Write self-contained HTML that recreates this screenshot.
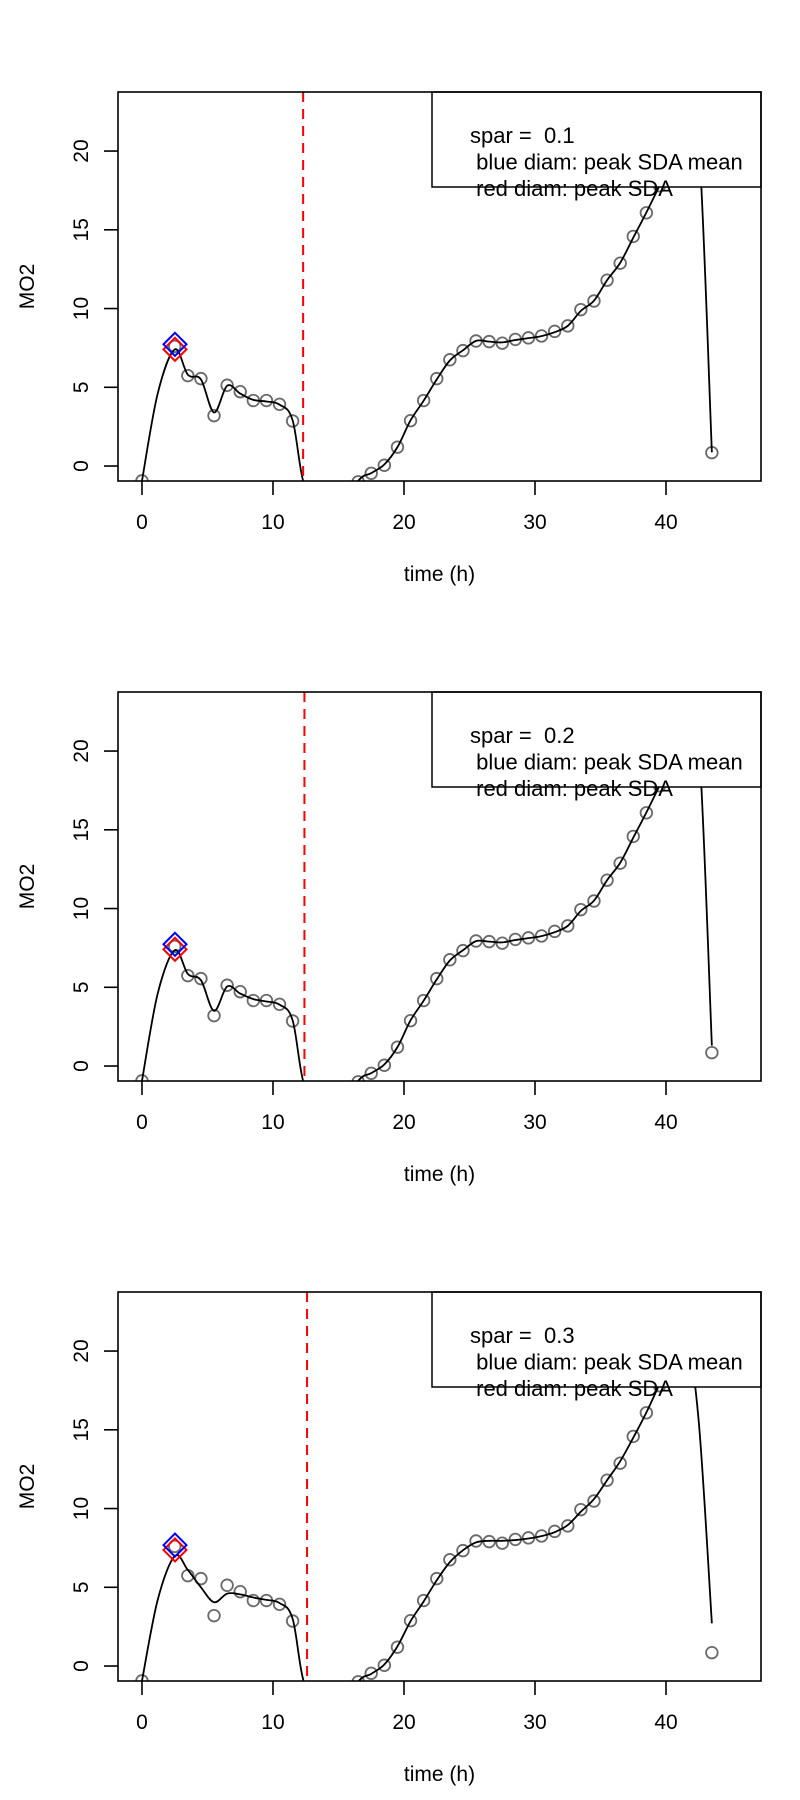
<!DOCTYPE html>
<html><head><meta charset="utf-8">
<style>
html,body{margin:0;padding:0;background:#fff;}
svg{display:block;font-family:"Liberation Sans",Arial,sans-serif;}
text{white-space:pre;}
</style></head>
<body>
<svg id="chart" width="800" height="1800" viewBox="0 0 800 1800" xmlns="http://www.w3.org/2000/svg"></svg>
<script>
// ---- data ----
const times = [0,2.5,3.5,4.5,5.5,6.5,7.5,8.5,9.5,10.5,11.5,16.5,17.5,18.5,19.5,20.5,21.5,22.5,23.5,24.5,25.5,26.5,27.5,28.5,29.5,30.5,31.5,32.5,33.5,34.5,35.5,36.5,37.5,38.5,39.5,40.5,41.5,42.5,43.5];
const mo2 = [-0.94,7.6,5.74,5.55,3.2,5.13,4.72,4.16,4.16,3.92,2.86,-1.0,-0.46,0.05,1.2,2.88,4.16,5.55,6.75,7.33,7.94,7.9,7.8,8.04,8.14,8.26,8.55,8.9,9.93,10.48,11.8,12.88,14.58,16.08,17.8,19.6,21.0,21.5,0.85];
const sparLabels = ["0.1","0.2","0.3"];
const fitT = [0,1.2,2.5,3.5,4.5,5.5,6.5,7.5,8.5,9.5,10.5,11.5,12.5,14.5,16.5,17.5,18.5,19.5,20.5,21.5,22.5,23.5,24.5,25.5,26.5,27.5,28.5,29.5,30.5,31.5,32.5,33.5,34.5,35.5,36.5,37.5,38.5,39.5,40.5,41.5,42.5,43.5];
const fit1 = [-0.94,4.6,7.4,5.8,5.5,3.4,5.1,4.6,4.2,4.1,3.9,2.9,-1.5,-3.5,-0.95,-0.45,0.1,1.2,2.9,4.15,5.5,6.7,7.35,7.95,7.9,7.85,8.0,8.12,8.25,8.5,8.9,9.85,10.5,11.8,12.9,14.5,16.1,17.8,19.6,21.2,20.5,0.87];
const fit2 = [-0.94,4.6,7.35,5.85,5.45,3.5,5.05,4.6,4.25,4.1,3.9,2.9,-1.5,-3.5,-0.95,-0.45,0.1,1.2,2.9,4.15,5.5,6.7,7.35,7.93,7.9,7.85,8.0,8.12,8.25,8.5,8.9,9.85,10.5,11.8,12.9,14.5,16.1,17.8,19.6,21.2,20.5,1.3];
const fit3 = [-0.94,4.2,6.98,6.1,5.0,4.05,4.6,4.55,4.35,4.2,4.0,3.0,-1.4,-3.5,-1.0,-0.5,0.1,1.25,2.85,4.1,5.45,6.6,7.35,7.85,7.95,7.95,8.0,8.1,8.25,8.5,8.95,9.8,10.6,11.8,13.0,14.5,16.1,17.9,19.8,21.2,15.5,2.71];
const peakT = 2.52;
const peakMean = [7.73,7.73,7.68];
const peakSDA = [7.41,7.41,7.37];
const cutT = [12.3,12.4,12.6];
const xTicks = [0,10,20,30,40];
const yTicks = [0,5,10,15,20];

// ---- layout ----
const NS="http://www.w3.org/2000/svg";
const svg=document.getElementById('chart');
const L=118,R=761,T0=92,B0=481;
const xmin=-1.83,xmax=47.25,ymin=-0.95,ymax=23.75;
const FS=21, LFS=22;
function el(tag,attrs,parent){const e=document.createElementNS(NS,tag);for(const k in attrs)e.setAttribute(k,attrs[k]);(parent||svg).appendChild(e);return e;}

function drawPanel(p){
  const off=p*600, T=T0+off, B=B0+off;
  const sx=v=>L+(v-xmin)/(xmax-xmin)*(R-L);
  const sy=v=>B-(v-ymin)/(ymax-ymin)*(B-T);
  const g=el('g',{});
  
  
  const cid='clip'+p;
  const cp=el('clipPath',{id:cid},g);
  el('rect',{x:L,y:T,width:R-L,height:B-T},cp);
  const plot=el('g',{'clip-path':'url(#'+cid+')'},g);
  times.forEach((t,i)=>{
    const c=el('circle',{cx:sx(t),cy:sy(mo2[i]),r:5.8,fill:'none',stroke:'#6b6b6b','stroke-width':1.8},plot);
    
    
  });
  const fy=[fit1,fit2,fit3][p];
  const P=fitT.map((t,i)=>[sx(t),sy(fy[i])]);
  let d='M'+P[0][0]+','+P[0][1];
  for(let i=0;i<P.length-1;i++){
    const p0=P[Math.max(0,i-1)],p1=P[i],p2=P[i+1],p3=P[Math.min(P.length-1,i+2)];
    const c1=[p1[0]+(p2[0]-p0[0])/6,p1[1]+(p2[1]-p0[1])/6];
    const c2=[p2[0]-(p3[0]-p1[0])/6,p2[1]-(p3[1]-p1[1])/6];
    d+=' C'+c1[0]+','+c1[1]+' '+c2[0]+','+c2[1]+' '+p2[0]+','+p2[1];
  }
  const path=el('path',{d:d,fill:'none',stroke:'#000','stroke-width':1.8},plot);
  
  
  const cl=el('line',{x1:sx(cutT[p]),x2:sx(cutT[p]),y1:T,y2:B,stroke:'#ff0000','stroke-width':2,'stroke-dasharray':'10,7'},plot);
  
  
  const lg=el('g',{},g);
  
  
  el('rect',{x:432,y:T,width:R-432,height:95,fill:'#fff',stroke:'#000','stroke-width':1.5},lg);
  const lines=['spar =  '+sparLabels[p],' blue diam: peak SDA mean',' red diam: peak SDA'];
  lines.forEach((s,i)=>{
    const t=el('text',{x:470,y:T+51+i*26.4,'font-size':LFS,fill:'#000'},lg);
    
    
    t.textContent=s;
  });
  const h=11.5;
  [[peakSDA[p],'#ff0000','peak-sda-marker'],[peakMean[p],'#0000ff','peak-sda-mean-marker']].forEach(([v,col,name])=>{
    const cx=sx(peakT),cy=sy(v);
    const dm=el('polygon',{points:`${cx},${cy-h} ${cx+h},${cy} ${cx},${cy+h} ${cx-h},${cy}`,fill:'none',stroke:col,'stroke-width':2},g);
    
    
  });
  const bx=el('rect',{x:L,y:T,width:R-L,height:B-T,fill:'none',stroke:'#000','stroke-width':1.6},g);
  
  
  xTicks.forEach(v=>{
    el('line',{x1:sx(v),x2:sx(v),y1:B,y2:B+14,stroke:'#000','stroke-width':1.6},g);
    const t=el('text',{x:sx(v),y:B+48,'font-size':FS,'text-anchor':'middle'},g);
    
    
    t.textContent=v;
  });
  yTicks.forEach(v=>{
    el('line',{x1:L-14,x2:L,y1:sy(v),y2:sy(v),stroke:'#000','stroke-width':1.6},g);
    const t=el('text',{x:0,y:0,'font-size':FS,'text-anchor':'middle',transform:`translate(88,${sy(v)}) rotate(-90)`},g);
    
    
    t.textContent=v;
  });
  const xt=el('text',{x:(L+R)/2,y:T+489,'font-size':FS,'text-anchor':'middle'},g);
  
  
  xt.textContent='time (h)';
  const yt=el('text',{x:0,y:0,'font-size':FS,'text-anchor':'middle',transform:`translate(34,${(T+B)/2}) rotate(-90)`},g);
  
  
  yt.textContent='MO2';
}
[0,1,2].forEach(drawPanel);
</script>
</body></html>
